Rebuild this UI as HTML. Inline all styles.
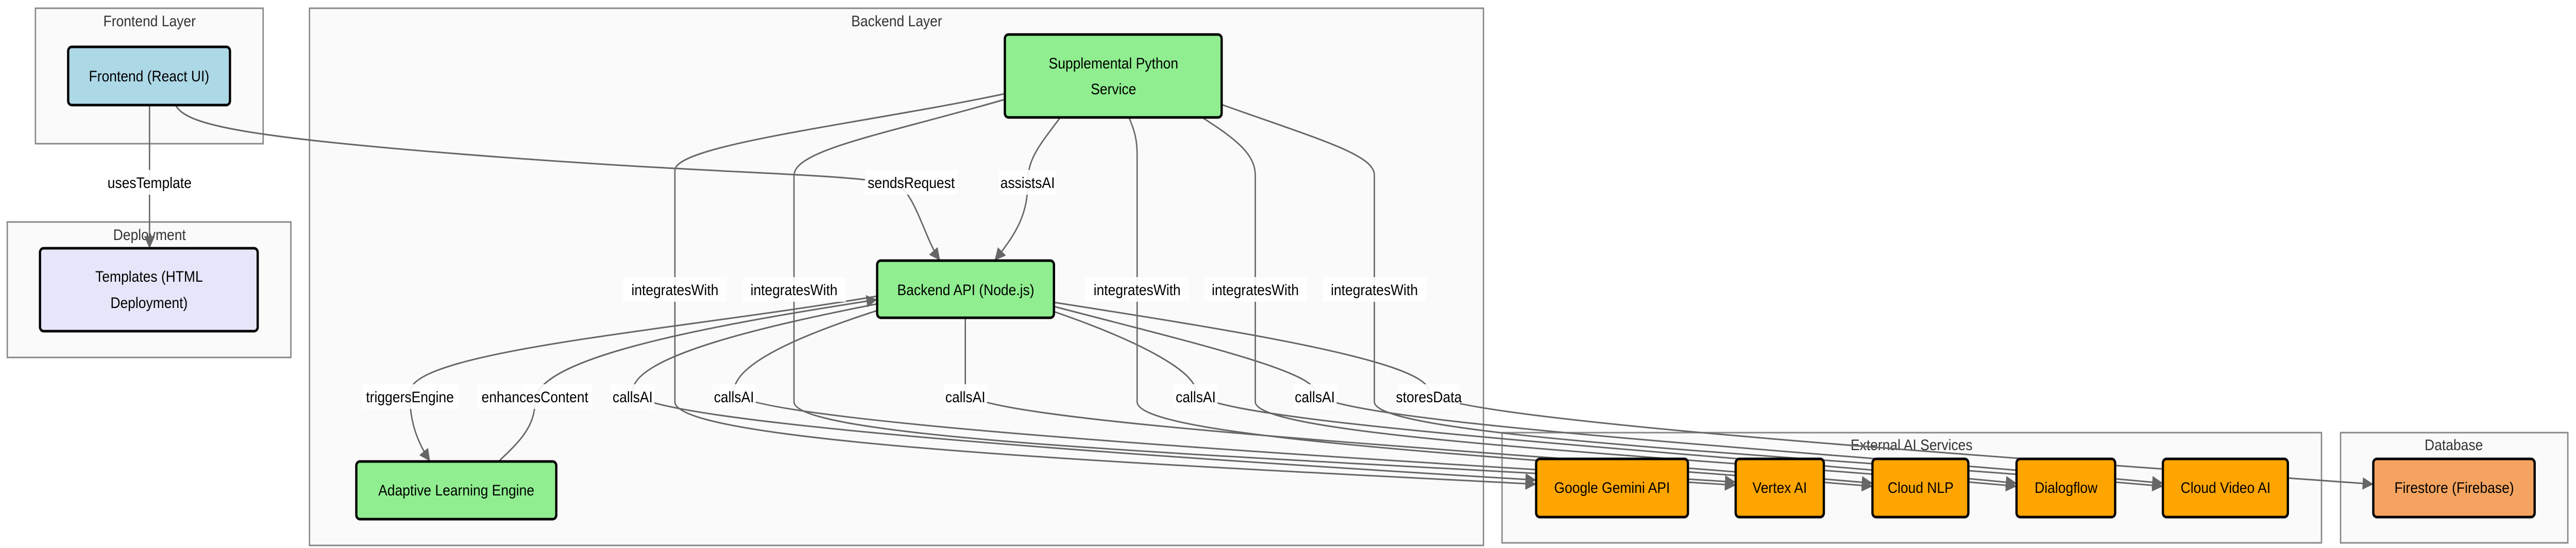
<!DOCTYPE html>
<html><head><meta charset="utf-8"><style>
html,body{margin:0;padding:0;background:#fff;width:100%;height:100%;overflow:hidden;}
svg{display:block;width:100vw;height:100vh;}
text{font-family:"Liberation Sans",sans-serif;}
</style></head><body>
<svg viewBox="0 0 5668 1064" preserveAspectRatio="none" xmlns="http://www.w3.org/2000/svg">
<defs>
<marker id="ar" markerUnits="userSpaceOnUse" markerWidth="24" markerHeight="24" viewBox="0 0 10 10" refX="9" refY="5" orient="auto">
<path d="M0,0 L10,5 L0,10 z" fill="#666"/>
</marker>
</defs>
<g fill="#fafafa" stroke="#888" stroke-width="3">
<rect x="78" y="16" width="501" height="263"/>
<rect x="16" y="431" width="624" height="263"/>
<rect x="681" y="16" width="2583" height="1043"/>
<rect x="3305" y="840" width="1803" height="214"/>
<rect x="5150" y="840" width="500" height="214"/>
</g>
<g font-size="30" fill="#333" text-anchor="middle">
<text x="329" y="51">Frontend Layer</text>
<text x="329" y="466">Deployment</text>
<text x="1973" y="51">Backend Layer</text>
<text x="4206" y="874">External AI Services</text>
<text x="5399" y="874">Database</text>
</g>
<g fill="none" stroke="#666" stroke-width="3">
<path d="M329,204 L329,480" marker-end="url(#ar)"/>
<path d="M386,204 C410,240 500,265 1100,305 S1950,335 1990,370 C2020,400 2040,470 2067,504" marker-end="url(#ar)"/>
<path d="M2333,228 C2280,290 2261,310 2261,360 C2261,420 2230,460 2190,504" marker-end="url(#ar)"/>
<path d="M2211,182 C1900,240 1490,280 1485,330 L1485,780 C1485,860 2500,900 3378,940" marker-end="url(#ar)"/>
<path d="M2211,193 C1950,260 1750,290 1747,340 L1747,780 C1747,860 2900,890 3817,942" marker-end="url(#ar)"/>
<path d="M2484,228 C2500,260 2502,280 2502,300 L2502,780 C2502,850 3300,885 4118,944" marker-end="url(#ar)"/>
<path d="M2645,228 C2720,270 2762,300 2762,340 L2762,780 C2762,850 3700,885 4435,944" marker-end="url(#ar)"/>
<path d="M2688,203 C2900,270 3024,300 3024,340 L3024,780 C3024,850 4000,885 4757,944" marker-end="url(#ar)"/>
<path d="M1930,590 C1700,630 1392,690 1392,760 C1392,820 2500,885 3378,932" marker-end="url(#ar)"/>
<path d="M1930,603 C1800,640 1615,700 1615,760 C1615,820 2900,885 3817,936" marker-end="url(#ar)"/>
<path d="M2124,617 L2124,760 C2124,820 3300,875 4118,938" marker-end="url(#ar)"/>
<path d="M2319,605 C2500,660 2631,720 2631,760 C2631,820 3700,875 4435,938" marker-end="url(#ar)"/>
<path d="M2319,595 C2600,660 2893,720 2893,760 C2893,820 4000,875 4757,938" marker-end="url(#ar)"/>
<path d="M2319,587 C2700,640 3144,700 3144,760 C3144,810 4200,875 5220,940" marker-end="url(#ar)"/>
<path d="M1930,575 C1500,640 910,680 902,760 C900,820 920,860 945,894" marker-end="url(#ar)"/>
<path d="M1097,896 C1140,860 1177,830 1177,780 C1177,700 1500,640 1928,582" marker-end="url(#ar)"/>
</g>
<g fill="#fff" opacity="0.9">
<rect x="234" y="330" width="190" height="48"/>
<rect x="1903" y="330" width="204" height="48"/>
<rect x="2198" y="330" width="126" height="48"/>
<rect x="1371" y="538" width="228" height="48"/>
<rect x="1633" y="538" width="228" height="48"/>
<rect x="2388" y="538" width="228" height="48"/>
<rect x="2648" y="538" width="228" height="48"/>
<rect x="2910" y="538" width="228" height="48"/>
<rect x="796" y="746" width="212" height="48"/>
<rect x="1051" y="746" width="252" height="48"/>
<rect x="1344" y="746" width="96" height="48"/>
<rect x="1567" y="746" width="96" height="48"/>
<rect x="2076" y="746" width="96" height="48"/>
<rect x="2583" y="746" width="96" height="48"/>
<rect x="2845" y="746" width="96" height="48"/>
<rect x="3076" y="746" width="136" height="48"/>
</g>
<g font-size="30" fill="#000" text-anchor="middle">
<text x="329" y="365">usesTemplate</text>
<text x="2005" y="365">sendsRequest</text>
<text x="2261" y="365">assistsAI</text>
<text x="1485" y="573">integratesWith</text>
<text x="1747" y="573">integratesWith</text>
<text x="2502" y="573">integratesWith</text>
<text x="2762" y="573">integratesWith</text>
<text x="3024" y="573">integratesWith</text>
<text x="902" y="781">triggersEngine</text>
<text x="1177" y="781">enhancesContent</text>
<text x="1392" y="781">callsAI</text>
<text x="1615" y="781">callsAI</text>
<text x="2124" y="781">callsAI</text>
<text x="2631" y="781">callsAI</text>
<text x="2893" y="781">callsAI</text>
<text x="3144" y="781">storesData</text>
</g>
<g stroke="#000" stroke-width="5">
<rect x="150" y="91" width="356" height="113" rx="8" fill="#add8e6"/>
<rect x="88" y="482" width="479" height="161" rx="8" fill="#e6e6fa"/>
<rect x="2211" y="67" width="477" height="161" rx="8" fill="#90ee90"/>
<rect x="1930" y="506" width="389" height="111" rx="8" fill="#90ee90"/>
<rect x="784" y="896" width="440" height="112" rx="8" fill="#90ee90"/>
<rect x="3380" y="891" width="334" height="113" rx="8" fill="#ffa500"/>
<rect x="3819" y="891" width="194" height="113" rx="8" fill="#ffa500"/>
<rect x="4120" y="891" width="211" height="113" rx="8" fill="#ffa500"/>
<rect x="4437" y="891" width="217" height="113" rx="8" fill="#ffa500"/>
<rect x="4759" y="891" width="275" height="113" rx="8" fill="#ffa500"/>
<rect x="5222" y="891" width="355" height="113" rx="8" fill="#f4a460"/>
</g>
<g font-size="30" fill="#000" text-anchor="middle">
<text x="328" y="158">Frontend (React UI)</text>
<text x="328" y="547">Templates (HTML</text>
<text x="328" y="598">Deployment)</text>
<text x="2450" y="133">Supplemental Python</text>
<text x="2450" y="183">Service</text>
<text x="2125" y="573">Backend API (Node.js)</text>
<text x="1004" y="962">Adaptive Learning Engine</text>
<text x="3547" y="957">Google Gemini API</text>
<text x="3916" y="957">Vertex AI</text>
<text x="4226" y="957">Cloud NLP</text>
<text x="4546" y="957">Dialogflow</text>
<text x="4897" y="957">Cloud Video AI</text>
<text x="5400" y="957">Firestore (Firebase)</text>
</g>
</svg>
</body></html>
